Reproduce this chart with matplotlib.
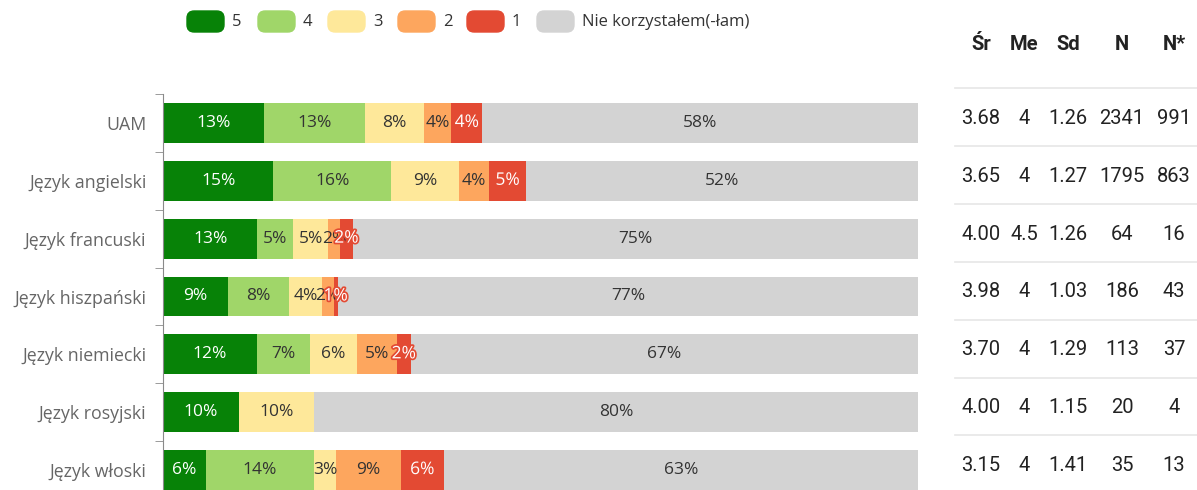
import matplotlib.pyplot as plt
import numpy as np
from matplotlib.patches import FancyBboxPatch
from matplotlib.transforms import blended_transform_factory
import matplotlib.patheffects as pe

categories = ["UAM", "Język angielski", "Język francuski", "Język hiszpański",
              "Język niemiecki", "Język rosyjski", "Język włoski"]

# percentage shares per answer, one list per rating level
pct_5 = [13.4, 14.6, 12.5, 8.6, 12.4, 10.0, 5.7]
pct_4 = [13.4, 15.6, 4.7, 8.1, 7.1, 0.0, 14.3]
pct_3 = [7.8, 9.0, 4.7, 4.3, 6.2, 10.0, 2.9]
pct_2 = [3.6, 4.0, 1.6, 1.6, 5.3, 0.0, 8.6]
pct_1 = [4.1, 4.9, 1.6, 0.54, 1.8, 0.0, 5.7]
pct_none = [57.7, 51.9, 75.0, 76.9, 67.2, 80.0, 62.9]

series_names = ["5", "4", "3", "2", "1", "Nie korzystałem(-łam)"]
colors = ["#078207", "#a0d669", "#fee89a", "#fda65e", "#e34a33", "#d3d3d3"]
text_colors = ["white", "#333333", "#333333", "#333333", "white", "#333333"]

# summary table
col_headers = ["Śr", "Me", "Sd", "N", "N*"]
mean_vals = ["3.68", "3.65", "4.00", "3.98", "3.70", "4.00", "3.15"]
median_vals = ["4", "4", "4.5", "4", "4", "4", "4"]
sd_vals = ["1.26", "1.27", "1.26", "1.03", "1.29", "1.15", "1.41"]
n_vals = ["2341", "1795", "64", "186", "113", "20", "35"]
n_star_vals = ["991", "863", "16", "43", "37", "4", "13"]

W, H = 1197, 490


def init_plt_env():
    plt.rcParams['font.family'] = ['Open Sans', 'DejaVu Sans']
    plt.rcParams['axes.unicode_minus'] = False


def pct_label(v):
    # round half up, 12.5 -> 13%
    return "%d%%" % int(np.floor(v + 0.5))


def draw_bars(ax):
    series = [pct_5, pct_4, pct_3, pct_2, pct_1, pct_none]
    y = np.arange(len(categories))
    left = np.zeros(len(categories))
    for k, vals in enumerate(series):
        vals = np.array(vals)
        ax.barh(y, vals, left=left, height=0.69, color=colors[k])
        for i, v in enumerate(vals):
            if v <= 0:
                continue
            effects = None
            if k == 4:
                effects = [pe.withStroke(linewidth=2.5, foreground=colors[4])]
            ax.text(left[i] + v / 2, i, pct_label(v), ha="center", va="center",
                    fontsize=12.5, color=text_colors[k], path_effects=effects)
        left += vals

    ax.set_xlim(0, 100)
    ax.set_ylim(len(categories) - 0.5, -0.5)
    ax.set_yticks(y)
    ax.set_yticklabels(categories, fontsize=12.8, color="#666666")
    ax.set_yticks(np.arange(len(categories) + 1) - 0.5, minor=True)
    ax.tick_params(axis="y", which="major", length=0, pad=12)
    ax.tick_params(axis="y", which="minor", length=6, color="#8a8a8a")
    ax.set_xticks([])
    for side in ["top", "right", "bottom"]:
        ax.spines[side].set_visible(False)
    ax.spines["left"].set_color("#8a8a8a")


def draw_legend(fig):
    starts = [187, 258, 328, 398, 467, 537]
    for k, x0 in enumerate(starts):
        patch = FancyBboxPatch((x0 / W, 1 - 32 / H), 37 / W, 21 / H,
                               boxstyle="round,pad=0,rounding_size=0.006",
                               transform=fig.transFigure, color=colors[k],
                               mutation_aspect=W / H)
        fig.patches.append(patch)
        fig.text((x0 + 45) / W, 1 - 22 / H, series_names[k], fontsize=12,
                 color="#333333", va="center", ha="left")


def draw_table(fig, ax):
    col_x = [981, 1024, 1068, 1122, 1174]
    for x, h in zip(col_x, col_headers):
        fig.text(x / W, 1 - 44 / H, h, ha="center", va="center", fontsize=14.5,
                 fontweight="bold", family="Roboto", color="#222222")
    trans = blended_transform_factory(fig.transFigure, ax.transData)
    cols = [mean_vals, median_vals, sd_vals, n_vals, n_star_vals]
    for i in range(len(categories)):
        ax.plot([955 / W, 1.0], [i - 0.6, i - 0.6], transform=trans, color="#e6e6e6",
                lw=1.2, clip_on=False)
        for x, col in zip(col_x, cols):
            ax.text(x / W, i - 0.08, col[i], transform=trans, ha="center", va="center",
                    fontsize=14.5, family="Roboto", color="#222222")


def draw_chart():
    init_plt_env()
    fig = plt.figure(figsize=(W / 100, H / 100), dpi=100)
    ax = fig.add_axes([163 / W, -9 / H, 755 / W, 405 / H])
    draw_bars(ax)
    draw_legend(fig)
    draw_table(fig, ax)
    plt.savefig("out.png", dpi=100)


if __name__ == '__main__':
    draw_chart()
